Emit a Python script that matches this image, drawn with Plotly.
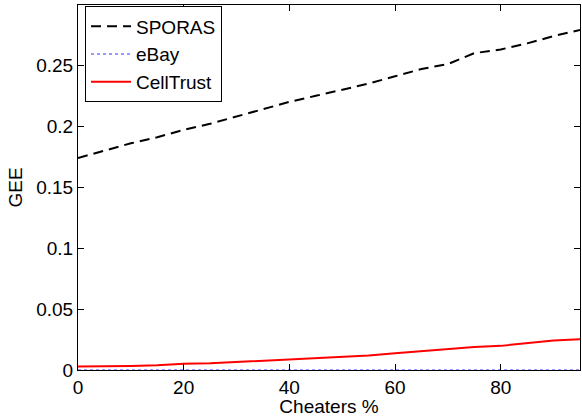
import plotly.graph_objects as go

cheaters = [0, 5, 10, 15, 20, 25, 30, 35, 40, 45, 50, 55, 60, 65, 70, 75, 80, 85, 90, 95]
sporas = [0.174, 0.180, 0.186, 0.191, 0.197, 0.202, 0.208, 0.214, 0.220, 0.225,
          0.230, 0.235, 0.241, 0.247, 0.251, 0.260, 0.263, 0.268, 0.274, 0.279]
ebay = [0.0] * len(cheaters)
celltrust = [0.0028, 0.0028, 0.0033, 0.0040, 0.0052, 0.0055, 0.0066, 0.0078, 0.0088, 0.0097,
             0.0106, 0.0118, 0.0138, 0.0155, 0.0168, 0.0188, 0.0198, 0.0222, 0.0243, 0.0252]

x_ticks = [0, 20, 40, 60, 80]
y_ticks = [0, 0.05, 0.1, 0.15, 0.2, 0.25]
y_ticktext = ["0", "0.05", "0.1", "0.15", "0.2", "0.25"]

font = dict(family="Liberation Sans, Arial, sans-serif", size=19, color="black")

fig = go.Figure()
fig.add_trace(go.Scatter(x=cheaters, y=sporas, mode="lines", name="SPORAS",
                         line=dict(color="black", width=2, dash="10px,6px")))
fig.add_trace(go.Scatter(x=cheaters, y=ebay, mode="lines", name="eBay",
                         line=dict(color="#3333ff", width=1, dash="dot")))
fig.add_trace(go.Scatter(x=cheaters, y=celltrust, mode="lines", name="CellTrust",
                         line=dict(color="red", width=2)))

axis_common = dict(showgrid=False, zeroline=False, showline=True, linecolor="black",
                   linewidth=1, mirror="ticks", ticks="inside", ticklen=6,
                   tickcolor="black", tickfont=font)

fig.update_layout(
    width=582, height=417,
    margin=dict(l=78, r=2, t=5, b=47),
    paper_bgcolor="white", plot_bgcolor="white",
    font=font,
    showlegend=True,
    legend=dict(x=0.014, y=0.996, xanchor="left", yanchor="top",
                bgcolor="white", bordercolor="black", borderwidth=1,
                font=font, tracegroupgap=0, itemwidth=40),
    xaxis=dict(range=[0, 95], tickvals=x_ticks,
               title=dict(text="Cheaters %", font=font, standoff=2), **axis_common),
    yaxis=dict(range=[0, 0.2995], tickvals=y_ticks, ticktext=y_ticktext,
               title=dict(text="GEE", font=font, standoff=8), **axis_common),
)

fig.write_html("out.html")
